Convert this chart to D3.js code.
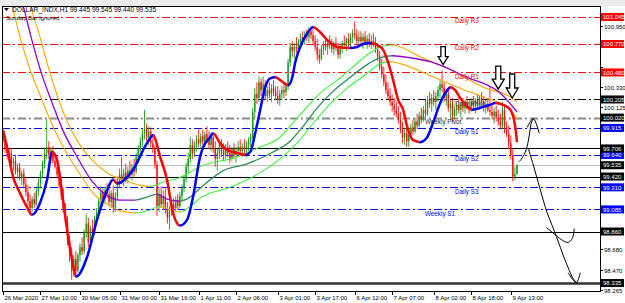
<!DOCTYPE html>
<html>
<head>
<meta charset="utf-8">
<script src="https://cdn.jsdelivr.net/npm/d3@7"></script>
<style>
  body { margin: 0; background: #fff; }
  svg { display: block; font-family: "Liberation Sans", Arial, sans-serif; }
</style>
</head>
<body>
<div id="chart"></div>
<script>
const width = 625;
const height = 303;
const plot = { left: 2, right: 600, top: 6, bottom: 291 };

const title = "DOLLAR_INDX,H1  99.445 99.545 99.440 99.535";
const subtitle = "Sunday Bar Ignored";

// x axis labels and the bar index they sit on
const timeLabels = ["26 Mar 2020", "27 Mar 10:00", "30 Mar 05:00", "31 Mar 00:00", "31 Mar 16:00", "1 Apr 11:00", "2 Apr 06:00",
  "3 Apr 01:00", "3 Apr 17:00", "6 Apr 12:00", "7 Apr 07:00", "8 Apr 02:00", "8 Apr 18:00", "9 Apr 13:00"];
const timeIdx = [0, 18, 37, 56, 75, 94, 112, 132, 150, 169, 187, 207, 225, 244];

const priceTicks = [100.950, 100.745, 100.540, 100.330, 100.125, 99.915, 99.710, 99.505, 99.300, 99.090, 98.885, 98.680, 98.470, 98.265];

// pivot levels (dash-dot lines)
const pivotNames = ["Daily R3", "Daily R2", "Daily R1", "Daily Pivot", "Weekly Pivot", "Daily S1", "Daily S2", "Daily S3", "Weekly S1"];
const pivotValues = [101.045, 100.770, 100.480, 100.205, 100.020, 99.915, 99.640, 99.310, 99.085];

// drawn horizontal lines + bid
const hLines = [99.706, 99.420, 98.860, 98.335];
const bid = 99.535;

// hourly candles: open, high, low, close
const ohlc = [
  [99.86,99.92,99.76,99.79],[99.79,99.84,99.66,99.70],[99.70,99.76,99.60,99.63],[99.63,99.70,99.55,99.66],[99.66,99.71,99.52,99.55],
  [99.55,99.62,99.48,99.58],[99.58,99.64,99.44,99.47],[99.47,99.55,99.40,99.51],[99.51,99.56,99.38,99.42],[99.42,99.48,99.33,99.45],
  [99.45,99.50,99.30,99.34],[99.34,99.40,99.22,99.26],[99.26,99.33,99.12,99.17],[99.17,99.24,99.03,99.10],[99.10,99.22,99.06,99.19],
  [99.19,99.25,99.10,99.14],[99.14,99.30,99.12,99.27],[99.27,99.40,99.22,99.36],[99.36,99.48,99.30,99.45],[99.45,99.58,99.40,99.55],
  [99.55,99.70,99.50,99.66],[99.66,100.00,99.60,99.72],[99.72,99.78,99.60,99.64],[99.64,99.72,99.56,99.68],[99.68,99.73,99.55,99.58],
  [99.58,99.66,99.50,99.52],[99.52,99.58,99.40,99.44],[99.44,99.50,99.30,99.33],[99.33,99.40,99.18,99.22],[99.22,99.30,99.05,99.08],
  [99.08,99.15,98.92,98.96],[98.96,99.02,98.72,98.76],[98.76,98.82,98.55,98.62],[98.62,98.70,98.37,98.46],[98.46,98.62,98.40,98.58],
  [98.58,98.66,98.42,98.46],[98.46,98.64,98.44,98.62],[98.62,98.74,98.55,98.70],[98.70,98.80,98.62,98.66],[98.66,98.88,98.63,98.85],
  [98.85,99.04,98.80,98.94],[98.94,99.00,98.70,98.75],[98.75,98.92,98.72,98.89],[98.89,98.98,98.80,98.84],[98.84,99.02,98.82,99.00],
  [99.00,99.10,98.92,99.06],[99.06,99.20,99.02,99.17],[99.17,99.31,99.12,99.26],[99.26,99.30,99.15,99.20],[99.20,99.31,99.14,99.28],
  [99.28,99.35,99.20,99.24],[99.24,99.30,99.12,99.16],[99.16,99.28,99.10,99.25],[99.25,99.33,99.05,99.10],[99.10,99.26,99.06,99.22],
  [99.22,99.42,99.18,99.38],[99.38,99.50,99.30,99.44],[99.44,99.62,99.34,99.38],[99.38,99.50,99.32,99.46],[99.46,99.55,99.36,99.40],
  [99.40,99.52,99.35,99.48],[99.48,99.58,99.40,99.44],[99.44,99.55,99.38,99.51],[99.51,99.60,99.42,99.47],[99.47,99.66,99.45,99.62],
  [99.62,99.74,99.56,99.70],[99.70,99.82,99.64,99.78],[99.78,99.90,99.72,99.86],[99.86,100.10,99.80,99.90],[99.90,99.96,99.78,99.82],
  [99.82,99.93,99.74,99.88],[99.88,99.92,99.72,99.76],[99.76,99.84,99.66,99.70],[99.70,99.74,99.50,99.54],[99.54,99.58,99.02,99.12],
  [99.12,99.30,99.06,99.24],[99.24,99.32,99.10,99.14],[99.14,99.28,99.08,99.22],[99.22,99.30,99.04,99.08],[99.08,99.16,98.94,99.00],
  [99.00,99.12,98.88,99.08],[99.08,99.18,99.02,99.14],[99.14,99.20,99.04,99.10],[99.10,99.22,99.06,99.18],[99.18,99.24,99.08,99.12],
  [99.12,99.26,99.10,99.22],[99.22,99.34,99.18,99.30],[99.30,99.44,99.26,99.40],[99.40,99.56,99.36,99.52],[99.52,99.66,99.46,99.60],
  [99.60,99.82,99.56,99.74],[99.74,99.80,99.60,99.66],[99.66,99.78,99.62,99.74],[99.74,99.84,99.68,99.80],[99.80,99.90,99.72,99.76],
  [99.76,99.86,99.70,99.83],[99.83,99.90,99.74,99.78],[99.78,99.88,99.72,99.85],[99.85,99.93,99.76,99.80],[99.80,99.88,99.70,99.74],
  [99.74,99.87,99.68,99.82],[99.82,99.86,99.66,99.70],[99.70,99.78,99.52,99.60],[99.60,99.70,99.48,99.66],[99.66,99.78,99.60,99.74],
  [99.74,99.80,99.62,99.68],[99.68,99.76,99.58,99.64],[99.64,99.75,99.60,99.72],[99.72,99.78,99.62,99.66],[99.66,99.74,99.56,99.60],
  [99.60,99.72,99.58,99.70],[99.70,99.76,99.60,99.64],[99.64,99.72,99.56,99.68],[99.68,99.78,99.62,99.72],[99.72,99.80,99.64,99.68],
  [99.68,99.76,99.62,99.72],[99.72,99.80,99.64,99.70],[99.70,99.78,99.62,99.74],[99.74,99.82,99.68,99.78],[99.78,99.86,99.72,99.82],
  [99.82,100.12,99.80,100.08],[100.08,100.32,100.02,100.26],[100.26,100.38,100.16,100.22],[100.22,100.44,100.18,100.38],[100.38,100.42,100.24,100.30],
  [100.30,100.44,100.26,100.36],[100.36,100.40,100.20,100.24],[100.24,100.34,100.18,100.30],[100.30,100.38,100.22,100.26],[100.26,100.36,100.18,100.32],
  [100.32,100.40,100.24,100.28],[100.28,100.34,100.20,100.24],[100.24,100.34,100.16,100.20],[100.20,100.30,100.14,100.26],[100.26,100.34,100.20,100.30],
  [100.30,100.38,100.22,100.28],[100.28,100.36,100.24,100.34],[100.34,100.62,100.30,100.58],[100.58,100.78,100.54,100.74],[100.74,100.80,100.64,100.70],
  [100.70,100.78,100.62,100.74],[100.74,100.84,100.68,100.72],[100.72,100.82,100.66,100.80],[100.80,100.88,100.74,100.84],[100.84,100.90,100.78,100.82],
  [100.82,100.90,100.76,100.86],[100.86,100.92,100.80,100.84],[100.84,100.94,100.78,100.90],[100.90,100.95,100.82,100.86],[100.86,100.92,100.76,100.80],
  [100.80,100.86,100.70,100.74],[100.74,100.82,100.60,100.66],[100.66,100.72,100.57,100.62],[100.62,100.76,100.60,100.72],[100.72,100.80,100.66,100.76],
  [100.76,100.84,100.70,100.74],[100.74,100.82,100.66,100.78],[100.78,100.86,100.72,100.76],[100.76,100.82,100.68,100.72],[100.72,100.80,100.66,100.78],
  [100.78,100.84,100.70,100.74],[100.74,100.78,100.62,100.66],[100.66,100.76,100.62,100.72],[100.72,100.80,100.68,100.78],[100.78,100.86,100.72,100.76],
  [100.76,100.84,100.70,100.82],[100.82,100.88,100.74,100.78],[100.78,100.88,100.74,100.84],[100.84,100.92,100.78,100.88],[100.88,101.00,100.82,100.86],
  [100.86,100.92,100.76,100.80],[100.80,100.90,100.74,100.84],[100.84,100.90,100.76,100.80],[100.80,100.88,100.72,100.84],[100.84,100.90,100.76,100.78],
  [100.78,100.86,100.72,100.82],[100.82,100.88,100.74,100.78],[100.78,100.86,100.72,100.80],[100.80,100.88,100.74,100.76],[100.76,100.84,100.68,100.72],
  [100.72,100.78,100.60,100.64],[100.64,100.70,100.50,100.54],[100.54,100.62,100.42,100.46],[100.46,100.54,100.34,100.38],[100.38,100.46,100.26,100.30],
  [100.30,100.38,100.20,100.24],[100.24,100.32,100.14,100.18],[100.18,100.26,100.08,100.14],[100.14,100.22,100.04,100.10],[100.10,100.18,100.02,100.06],
  [100.06,100.14,99.96,100.00],[100.00,100.08,99.86,99.90],[99.90,99.98,99.76,99.82],[99.82,99.92,99.74,99.86],[99.86,99.92,99.72,99.78],
  [99.78,99.88,99.72,99.84],[99.84,99.96,99.80,99.92],[99.92,100.00,99.84,99.88],[99.88,100.02,99.86,99.98],[99.98,100.06,99.90,99.94],
  [99.94,100.08,99.92,100.04],[100.04,100.12,99.96,100.00],[100.00,100.14,99.98,100.10],[100.10,100.20,100.02,100.06],[100.06,100.24,100.04,100.20],
  [100.20,100.28,100.12,100.16],[100.16,100.26,100.08,100.22],[100.22,100.30,100.14,100.18],[100.18,100.28,100.10,100.24],[100.24,100.34,100.18,100.30],
  [100.30,100.40,100.22,100.36],[100.36,100.50,100.28,100.32],[100.32,100.38,100.18,100.22],[100.22,100.30,100.14,100.26],[100.26,100.32,100.08,100.12],
  [100.12,100.20,100.02,100.16],[100.16,100.22,99.98,100.04],[100.04,100.14,100.00,100.10],[100.10,100.18,100.04,100.14],[100.14,100.22,100.06,100.10],
  [100.10,100.18,100.02,100.16],[100.16,100.22,100.08,100.12],[100.12,100.20,100.06,100.18],[100.18,100.24,100.10,100.14],[100.14,100.20,100.06,100.12],
  [100.12,100.22,100.08,100.18],[100.18,100.24,100.10,100.14],[100.14,100.22,100.06,100.20],[100.20,100.26,100.12,100.16],[100.16,100.24,100.10,100.22],
  [100.22,100.28,100.14,100.18],[100.18,100.24,100.08,100.12],[100.12,100.20,100.06,100.16],[100.16,100.22,100.08,100.10],[100.10,100.34,100.04,100.08],
  [100.08,100.16,100.00,100.04],[100.04,100.12,99.96,100.08],[100.08,100.14,99.98,100.02],[100.02,100.10,99.94,99.98],[99.98,100.06,99.90,99.94],
  [99.94,100.18,99.90,100.10],[100.10,100.14,99.86,99.92],[99.92,99.98,99.82,99.86],[99.86,99.94,99.70,99.76],[99.76,99.84,99.60,99.64],
  [99.64,99.70,99.37,99.42],[99.42,99.52,99.38,99.445],[99.445,99.545,99.44,99.535]
];

// smoothed trend line (bar index, price) - blue while rising, red while falling
const trend = [[0,99.89],[1.9,99.72],[4.8,99.42],[8.2,99.25],[11.5,99.11],[13.9,99.03],[17.8,99.15],[21.2,99.39],[23.6,99.67],
  [26,99.59],[28.4,99.25],[30.8,98.88],[33.2,98.57],[35.1,98.40],[40.4,98.60],[45.2,98.98],[50,99.28],[52.9,99.39],[54.8,99.35],
  [62.5,99.49],[69.2,99.76],[72.1,99.84],[75.5,99.62],[78.8,99.39],[81.7,99.05],[85.1,98.92],[88.5,98.98],[91.3,99.21],[94.7,99.62],
  [96.2,99.72],[99.5,99.82],[101,99.86],[104.3,99.76],[107.7,99.69],[112.5,99.66],[116.3,99.64],[118.8,99.67],[121.2,99.86],
  [123.6,100.10],[126,100.33],[128.4,100.42],[130.8,100.43],[134.6,100.38],[137,100.35],[139,100.43],[140.4,100.58],[142.8,100.74],
  [146.2,100.88],[149,100.94],[152.4,100.89],[155.8,100.81],[160.6,100.74],[166.8,100.73],[170.2,100.74],[173.1,100.77],[177.4,100.78],
  [179.8,100.76],[182.7,100.71],[185.1,100.58],[187.5,100.40],[189.9,100.20],[192.3,100.10],[194.2,99.93],[197.1,99.79],[200.5,99.77],
  [203.8,99.82],[206.7,99.97],[210.1,100.17],[213.5,100.30],[214.9,100.33],[217.3,100.30],[219.7,100.22],[223.1,100.13],[225.5,100.10],
  [227.9,100.11],[230.8,100.13],[234.1,100.15],[236.5,100.17],[240.4,100.15],[243.8,100.10],[245.2,100.03],[246.2,99.92],[247,99.77]];

// moving average with bands
const bandUpper = [[10.1,101.42],[13,101.17],[17.8,100.84],[22.1,100.51],[26,100.25],[30.8,99.98],[37,99.74],[44.2,99.56],[51.4,99.44],
  [58.7,99.38],[65.9,99.33],[70.7,99.32],[77.9,99.37],[85.1,99.41],[94.7,99.52],[112.5,99.62],[123.6,99.72],[133.2,99.82],[139.4,99.97],
  [146.2,100.13],[152.4,100.27],[160.6,100.40],[168.3,100.54],[176.4,100.68],[182.7,100.75],[187,100.76],[190.9,100.74],[200.5,100.64],
  [214.9,100.51],[230.8,100.33],[243.8,100.23],[247,100.18]];
const bandMid = [[6.3,101.42],[9.6,101.17],[13.5,100.84],[18.8,100.45],[23.6,100.17],[28.8,99.89],[35.6,99.62],[42.8,99.37],[49,99.24],
  [56.3,99.18],[63.5,99.18],[69.2,99.21],[74,99.24],[78.8,99.19],[85.1,99.17],[89.9,99.21],[94.7,99.30],[105.8,99.48],[117.3,99.55],
  [129.8,99.67],[138,99.78],[144.2,99.93],[151,100.12],[158.7,100.29],[166.8,100.43],[175,100.56],[181.3,100.63],[187,100.65],
  [195.7,100.63],[205.3,100.59],[223.1,100.43],[238.9,100.27],[247,100.08]];
const bandLower = [[1.4,101.42],[4.3,101.17],[8.2,100.84],[13,100.51],[17.8,100.25],[23.6,99.95],[29.8,99.69],[37,99.44],[44.2,99.23],
  [51.4,99.12],[56.3,99.07],[63.5,99.05],[70.7,99.08],[75.5,99.12],[80.3,99.08],[85.1,99.06],[91.3,99.14],[94.7,99.20],[109.1,99.31],
  [123.6,99.46],[133.2,99.60],[141.3,99.76],[149,99.96],[157.2,100.16],[165.4,100.32],[175,100.47],[181.3,100.57],[186.1,100.59],
  [190.9,100.57],[205.3,100.45],[219.7,100.32],[230.8,100.23],[243.8,100.10],[247,100.00]];

// hand drawn notes (bar index, price)
const downArrows = [[211.5, 100.56], [238, 100.31], [244.7, 100.22]];
const sketchUp = [[248.1,99.57],[249.5,99.61],[251.4,99.69],[252.9,99.84],[253.8,99.96],[254.8,100.01]];
const sketchUpHead = [[251.9,99.92],[254.8,100.01],[257.7,99.86]];
const sketchDown = [[252.4,99.71],[254.8,99.54],[257.2,99.36],[259.6,99.18],[261.5,99.05],[263.9,98.92],[265.9,98.81],
  [267.8,98.70],[269.7,98.59],[271.6,98.49],[274,98.38],[276,98.33]];
const sketchCup = [[261.1,98.90],[263.5,98.86],[266.3,98.81],[268.8,98.77],[271.6,98.75],[273.6,98.79],[274.5,98.89]];
const sketchDownHead = [[271.6,98.44],[275.5,98.34],[277.4,98.44]];

const x = d3.scaleLinear().domain([0, 247]).range([3, 517]);
const y = d3.scaleLinear().domain([98.254, 101.157]).range([plot.bottom, plot.top]);

const svg = d3.select("#chart")
  .append("svg")
  .attr("width", width)
  .attr("height", height);

const defs = svg.append("defs");
defs.append("clipPath").attr("id", "plotClip")
  .append("rect")
  .attr("x", plot.left).attr("y", plot.top)
  .attr("width", plot.right - plot.left).attr("height", plot.bottom - plot.top);

// toolbar strip at the very top
svg.append("rect").attr("x", 0).attr("y", 0).attr("width", width).attr("height", plot.top).attr("fill", "#ececec");
svg.append("rect").attr("x", plot.left).attr("y", plot.top).attr("width", plot.right - plot.left).attr("height", plot.bottom - plot.top).attr("fill", "#fff");

const g = svg.append("g").attr("clip-path", "url(#plotClip)");

function levelColor(name) {
  if (name.includes("R")) return "#ff0000";
  if (name === "Weekly Pivot") return "#8c8c8c";
  if (name.includes("Pivot")) return "#000000";
  return "#0000ff";
}

// pivot lines
g.selectAll(".pivot")
  .data(pivotNames)
  .join("line")
  .attr("class", "pivot")
  .attr("x1", plot.left).attr("x2", plot.right)
  .attr("y1", (d, i) => Math.round(y(pivotValues[i])) + 0.5)
  .attr("y2", (d, i) => Math.round(y(pivotValues[i])) + 0.5)
  .attr("stroke", d => levelColor(d))
  .attr("stroke-width", d => d === "Weekly Pivot" ? 2 : 1)
  .attr("stroke-dasharray", "8,3,2,3");

// solid lines
g.selectAll(".hline")
  .data(hLines)
  .join("line")
  .attr("class", "hline")
  .attr("x1", plot.left).attr("x2", plot.right)
  .attr("y1", d => Math.round(y(d)) + 0.5)
  .attr("y2", d => Math.round(y(d)) + 0.5)
  .attr("stroke", (d, i) => i === hLines.length - 1 ? "#333" : "#000")
  .attr("stroke-width", (d, i) => i === hLines.length - 1 ? 2.5 : 1.2);

g.append("line")
  .attr("x1", plot.left).attr("x2", plot.right)
  .attr("y1", Math.round(y(bid)) + 0.5).attr("y2", Math.round(y(bid)) + 0.5)
  .attr("stroke", "#c0c0c0");

// candles
const upCol = "#1c9a1c";
const downCol = "#ff1010";
const candle = g.selectAll(".candle")
  .data(ohlc)
  .join("g")
  .attr("class", "candle");

candle.append("line")
  .attr("x1", (d, i) => x(i)).attr("x2", (d, i) => x(i))
  .attr("y1", d => y(d[1])).attr("y2", d => y(d[2]))
  .attr("stroke", d => d[3] >= d[0] ? upCol : downCol)
  .attr("stroke-width", 0.9);

candle.append("rect")
  .attr("x", (d, i) => x(i) - 0.7)
  .attr("width", 1.4)
  .attr("y", d => y(Math.max(d[0], d[3])))
  .attr("height", d => Math.max(1, Math.abs(y(d[0]) - y(d[3]))))
  .attr("fill", d => d[3] >= d[0] ? upCol : downCol);

// line coloured by its own slope, using a hard-stop horizontal gradient
function slopeLine(pts, upColor, downColor, strokeW, id) {
  const xs = pts.map(d => x(d[0]));
  let dir = pts[1][1] >= pts[0][1] ? 1 : -1;
  let start = xs[0];
  const runs = [];
  for (let k = 1; k < pts.length; k++) {
    const diff = pts[k][1] - pts[k - 1][1];
    const nd = diff > 0 ? 1 : diff < 0 ? -1 : dir;
    if (nd !== dir) {
      runs.push([start, xs[k - 1], dir]);
      start = xs[k - 1];
      dir = nd;
    }
  }
  runs.push([start, xs[xs.length - 1], dir]);

  const grad = defs.append("linearGradient")
    .attr("id", id)
    .attr("gradientUnits", "userSpaceOnUse")
    .attr("x1", 0).attr("x2", width).attr("y1", 0).attr("y2", 0);
  runs.forEach(([a, b, s]) => {
    const c = s > 0 ? upColor : downColor;
    grad.append("stop").attr("offset", a / width).attr("stop-color", c);
    grad.append("stop").attr("offset", b / width).attr("stop-color", c);
  });

  g.append("path")
    .datum(pts)
    .attr("d", d3.line().x(d => x(d[0])).y(d => y(d[1])).curve(d3.curveMonotoneX))
    .attr("fill", "none")
    .attr("stroke", `url(#${id})`)
    .attr("stroke-width", strokeW)
    .attr("stroke-linejoin", "round");
}

slopeLine(bandUpper, "#3cf03c", "#ffa500", 1.1, "gUpper");
slopeLine(bandLower, "#3cf03c", "#ffa500", 1.1, "gLower");
slopeLine(bandMid, "#2e8b57", "#9400d3", 1.3, "gMid");
slopeLine(trend, "#0000ff", "#ff0000", 2.5, "gTrend");

// level captions
const captionX = name => name.startsWith("Weekly") ? 425 : 455;
g.selectAll(".caption")
  .data(pivotNames)
  .join("text")
  .attr("class", "caption")
  .attr("x", d => captionX(d))
  .attr("y", (d, i) => y(pivotValues[i]) + 6.5)
  .attr("font-size", 6.3)
  .attr("fill", d => d === "Weekly Pivot" ? "#222" : d === "Daily Pivot" ? "#444" : levelColor(d))
  .text(d => d);

// hollow down arrows
const arrowSize = [[18, 10, 4.5, 8], [23, 12, 5, 10], [24, 12, 5, 10]];
g.selectAll(".darrow")
  .data(downArrows)
  .join("path")
  .attr("class", "darrow")
  .attr("d", (d, i) => {
    const [h, hw, sw, hh] = arrowSize[i];
    const tx = x(d[0]), ty = y(d[1]);
    return `M${tx - sw / 2},${ty - h}L${tx + sw / 2},${ty - h}L${tx + sw / 2},${ty - hh}L${tx + hw / 2},${ty - hh}` +
      `L${tx},${ty}L${tx - hw / 2},${ty - hh}L${tx - sw / 2},${ty - hh}Z`;
  })
  .attr("fill", "#fff")
  .attr("stroke", "#000")
  .attr("stroke-width", 1.3);

// sketch notes
const sketch = d3.line().x(d => x(d[0])).y(d => y(d[1])).curve(d3.curveCatmullRom);
[sketchUp, sketchUpHead, sketchDown, sketchCup, sketchDownHead].forEach(s => {
  svg.append("path")
    .datum(s)
    .attr("d", sketch)
    .attr("fill", "none")
    .attr("stroke", "#000")
    .attr("stroke-width", 1);
});

// frame
svg.append("rect")
  .attr("x", plot.left + 0.5).attr("y", plot.top + 0.5)
  .attr("width", plot.right - plot.left).attr("height", plot.bottom - plot.top)
  .attr("fill", "none").attr("stroke", "#000");

// price boxes for levels
const boxes = pivotNames.map((n, i) => ({ v: pivotValues[i], fill: n.includes("R") ? "#ff0000" : n.includes("Pivot") ? "#000" : "#0000ff" }))
  .concat(hLines.map(v => ({ v: v, fill: "#000" })))
  .concat([{ v: bid, fill: "#000" }]);

// right price axis, plain labels only where no level box covers them
const axisG = svg.append("g");
axisG.selectAll(".ptick")
  .data(priceTicks)
  .join("g")
  .attr("class", "ptick")
  .each(function(d) {
    const yy = Math.round(y(d)) + 0.5;
    d3.select(this).append("line").attr("x1", plot.right).attr("x2", plot.right + 3).attr("y1", yy).attr("y2", yy).attr("stroke", "#000");
    const covered = boxes.some(b => Math.abs(y(b.v) - y(d)) < 6.5);
    if (!covered) {
      d3.select(this).append("text").attr("x", plot.right + 4).attr("y", yy + 2.4).attr("font-size", 6).attr("fill", "#000").text(d.toFixed(3));
    }
  });

const box = axisG.selectAll(".pbox")
  .data(boxes)
  .join("g")
  .attr("class", "pbox");
box.append("rect")
  .attr("x", plot.right + 1).attr("width", 23)
  .attr("y", d => y(d.v) - 4).attr("height", 8)
  .attr("fill", d => d.fill);
box.append("text")
  .attr("x", plot.right + 3).attr("y", d => y(d.v) + 2.2)
  .attr("font-size", 6).attr("fill", "#fff")
  .text(d => d.v.toFixed(3));

// time axis
const timeG = svg.append("g");
timeG.selectAll(".tlabel")
  .data(timeLabels)
  .join("g")
  .attr("class", "tlabel")
  .each(function(d, i) {
    const xx = Math.round(x(timeIdx[i])) + 0.5;
    d3.select(this).append("line").attr("x1", xx).attr("x2", xx).attr("y1", plot.bottom).attr("y2", plot.bottom + 4).attr("stroke", "#000");
    d3.select(this).append("text").attr("x", xx + 1).attr("y", 299.5).attr("font-size", 6).attr("fill", "#000").text(d);
  });

// titles
svg.append("path").attr("d", "M4,8L9,8L6.5,11Z").attr("fill", "#000");
svg.append("text").attr("x", 12).attr("y", 12).attr("font-size", 6.6).attr("fill", "#000").text(title);
svg.append("text").attr("x", 6).attr("y", 20).attr("font-size", 6).attr("fill", "#000").text(subtitle);
</script>
</body>
</html>
